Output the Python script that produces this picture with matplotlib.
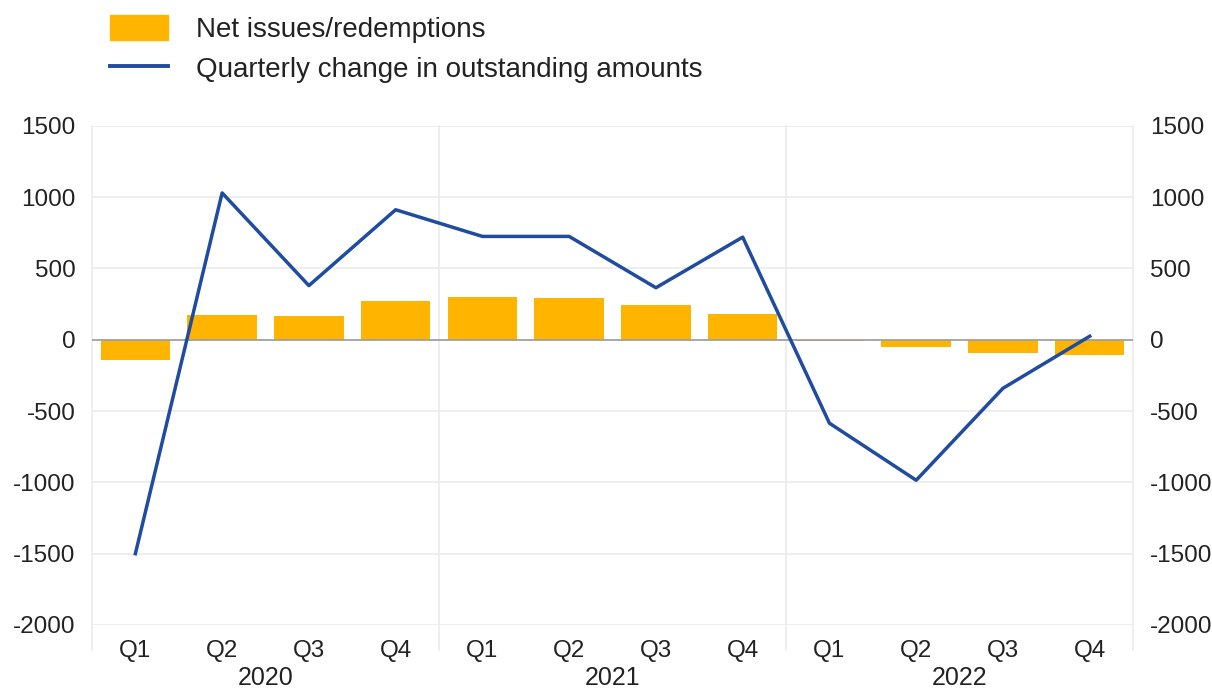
import numpy as np
import matplotlib.pyplot as plt
from matplotlib.patches import Patch
from matplotlib.lines import Line2D

plt.rcParams['font.family'] = ['Liberation Sans', 'DejaVu Sans']

quarters = ['Q1', 'Q2', 'Q3', 'Q4'] * 3
years = ['2020', '2021', '2022']
net_issues = [-140, 175, 170, 270, 300, 290, 245, 180, -8, -54, -95, -105]
quarterly_change = [-1500, 1030, 380, 912, 725, 725, 365, 720, -585, -985, -340, 25]

bar_color = '#ffb400'
line_color = '#1f4ba0'
grid_color = '#ebebeb'
text_color = '#222222'

fig = plt.figure(figsize=(12.12, 6.88), dpi=100)
ax = fig.add_axes([0.0759, 0.0916, 0.859, 0.7254])

x = np.arange(len(quarters))
ax.bar(x, net_issues, width=0.8, color=bar_color, zorder=2)
ax.plot(x, quarterly_change, color=line_color, lw=2.5, zorder=3)
ax.axhline(0, color='#a0a0a0', lw=1.3, zorder=2.5)

ax.set_xlim(-0.5, len(quarters) - 0.5)
ax.set_ylim(-2000, 1500)
yt = np.arange(-2000, 1501, 500)
ax.set_yticks(yt)
ax.set_yticklabels([str(v) for v in yt])
for v in yt:
    if v != 0:
        ax.axhline(v, color=grid_color, lw=1.2, zorder=1)

# vertical separators (edges and between years)
for xv in [-0.5, 3.5, 7.5, len(quarters) - 0.5]:
    ax.axvline(xv, ymin=-0.05, ymax=1, color=grid_color, lw=1.2, clip_on=False, zorder=1)

for s in ax.spines.values():
    s.set_visible(False)

ax.set_xticks(x)
ax.set_xticklabels(quarters)
ax.tick_params(axis='both', length=0, labelsize=17.5, colors=text_color)
ax.tick_params(axis='x', pad=11)
ax.tick_params(axis='y', pad=12)

ax2 = ax.twinx()
ax2.set_ylim(ax.get_ylim())
ax2.set_yticks(yt)
ax2.set_yticklabels([str(v) for v in yt])
ax2.tick_params(axis='y', length=0, labelsize=17.5, colors=text_color, pad=12)
for s in ax2.spines.values():
    s.set_visible(False)

for i, yr in enumerate(years):
    ax.text(i * 4 + 1.5, -0.106, yr, transform=ax.get_xaxis_transform(),
            ha='center', va='center', fontsize=18, color=text_color)

handles = [Patch(color=bar_color, label='Net issues/redemptions'),
           Line2D([0], [0], color=line_color, lw=2.8, label='Quarterly change in outstanding amounts')]
fig.legend(handles=handles, loc='upper left', bbox_to_anchor=(110 / 1212, 1 - 15 / 688),
           frameon=False, fontsize=20, handlelength=2.1, handleheight=1.0,
           handletextpad=1.0, labelspacing=0.45, borderpad=0, borderaxespad=0,
           labelcolor=text_color)

fig.savefig('out.png', dpi=100)
